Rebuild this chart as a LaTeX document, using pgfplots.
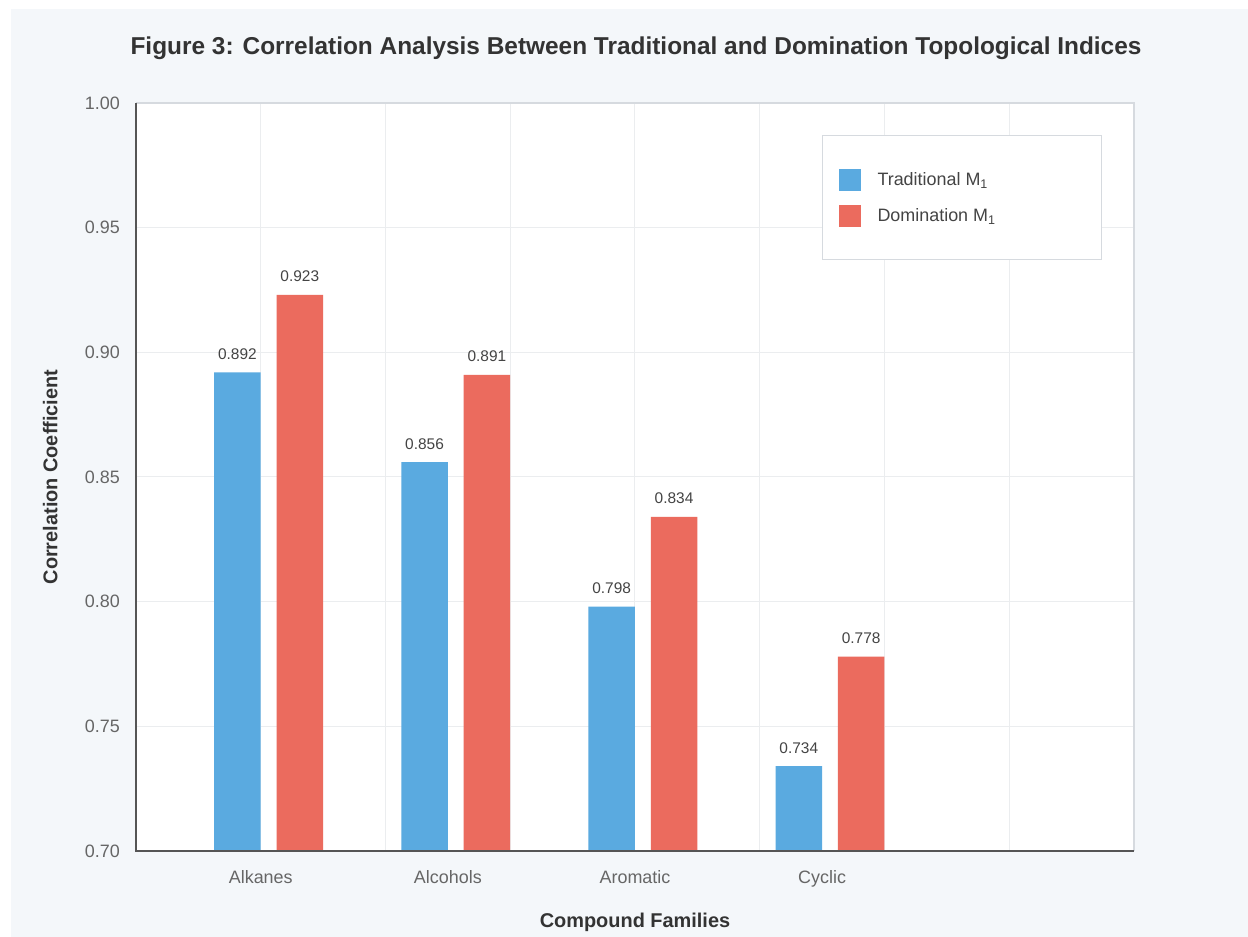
\documentclass[border=0pt]{standalone}
\usepackage{pgfplots}
\pgfplotsset{compat=1.18}
\usepackage{fontspec}
\setmainfont{Liberation Sans}

\definecolor{pagebg}{HTML}{F4F7FA}
\definecolor{tradblue}{HTML}{5AAAE0}
\definecolor{domred}{HTML}{EB6B5E}
\definecolor{gridgray}{HTML}{EBEDEF}
\definecolor{axisdark}{HTML}{555555}
\definecolor{framegray}{HTML}{D6DADF}
\definecolor{ticktext}{HTML}{666666}
\definecolor{labeltext}{HTML}{444444}
\definecolor{titletext}{HTML}{333333}

% legend entry text padded to a fixed width
\newcommand{\legtext}[1]{\makebox[208bp][l]{#1}}

\begin{document}
\begin{tikzpicture}[x=1bp,y=1bp]
  % page and panel background
  \fill[white] (0,0) rectangle (1248,937);
  \fill[pagebg] (11,0) rectangle (1248,928);

  \node[anchor=base, text=titletext, font=\fontsize{24.5}{28}\selectfont\bfseries]
    at (636,882) {Figure 3: Correlation Analysis Between Traditional and Domination Topological Indices};

  \begin{axis}[
    at={(136bp,86bp)}, anchor=south west,
    scale only axis, width=998bp, height=748bp,
    xmin=0, xmax=8, ymin=0.70, ymax=1.00,
    axis background/.style={fill=white},
    axis line style={draw=none},
    clip=false,
    ymajorgrids, xminorgrids,
    grid style={draw=gridgray, line width=1bp},
    minor xtick={0,1,2,3,4,5,6,7,8},
    xtick={1,2.5,4,5.5},
    xticklabels={Alkanes,Alcohols,Aromatic,Cyclic},
    ytick={0.70,0.75,0.80,0.85,0.90,0.95,1.00},
    major tick length=0pt, minor tick length=0pt,
    /pgf/number format/assume math mode=true,
    yticklabel={\pgfmathprintnumber[fixed,fixed zerofill,precision=2]{\tick}},
    yticklabel style={font=\fontsize{18}{20}\selectfont, text=ticktext,
      inner sep=0pt, anchor=east, xshift=-16bp},
    xticklabel style={font=\fontsize{18}{20}\selectfont, text=ticktext,
      inner sep=0pt, anchor=base, yshift=-33bp},
    xlabel={Compound Families},
    ylabel={Correlation Coefficient},
    label style={font=\fontsize{20}{24}\selectfont\bfseries, text=titletext},
    xlabel style={at={(axis description cs:0.5,-0.095)}, anchor=center},
    ylabel style={at={(axis description cs:-0.086,0.5)}, anchor=center},
    ybar,
    bar width=0.373,
    nodes near coords={\pgfmathprintnumber[fixed,fixed zerofill,precision=3,assume math mode=true]{\pgfplotspointmeta}},
    every node near coord/.append style={font=\fontsize{15.5}{18}\selectfont,
      text=labeltext, inner sep=0pt, anchor=base, yshift=13bp},
    legend style={at={(rel axis cs:0.6874,0.957)}, anchor=north west,
      draw=framegray, fill=white, line width=1bp,
      inner xsep=16bp, inner ysep=33bp,
      row sep=14bp, column sep=17bp,
      font=\fontsize{18}{20}\selectfont, text=labeltext,
      nodes={inner sep=0pt}},
    legend cell align=left,
    after end axis/.code={
      \draw[framegray, line width=1.5bp] (rel axis cs:0,1) -- (rel axis cs:1,1) -- (rel axis cs:1,0);
      \draw[axisdark, line width=2.5bp] (rel axis cs:0,1) -- (rel axis cs:0,0) -- (rel axis cs:1,0);
    },
  ]
    % Traditional M1 correlation per compound family
    \addplot[draw=none, fill=tradblue, bar shift=0pt,
      legend image code/.code={\fill[tradblue] (0bp,-11bp) rectangle (22bp,11bp);}]
      coordinates {(0.813,0.892) (2.313,0.856) (3.813,0.798) (5.313,0.734)};
    \addlegendentry{\legtext{Traditional M\textsubscript{1}}}
    % Domination M1 correlation per compound family
    \addplot[draw=none, fill=domred, bar shift=0pt,
      legend image code/.code={\fill[domred] (0bp,-11bp) rectangle (22bp,11bp);}]
      coordinates {(1.313,0.923) (2.813,0.891) (4.313,0.834) (5.813,0.778)};
    \addlegendentry{\legtext{Domination M\textsubscript{1}}}
  \end{axis}

  \pgfresetboundingbox
  \path (0,0) rectangle (1248,937);
\end{tikzpicture}
\end{document}
